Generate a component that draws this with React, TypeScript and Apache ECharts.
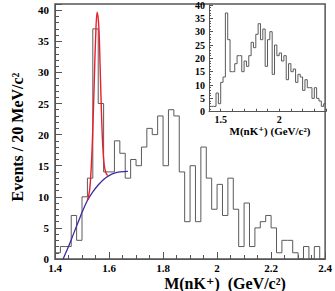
import React, { useEffect, useRef } from 'react';
import * as echarts from 'echarts';

// Histogram binning (GeV/c^2)
const binLow = 1.4;
const binWidth = 0.02;

// Main histogram: events per 20 MeV/c^2, bins starting at 1.40
const mainCounts = [
  1, 2, 2, 7, 3, 10, 13, 37, 25, 14,
  14, 19, 17, 13, 16, 15, 18, 21, 20, 23,
  15, 24, 23, 14, 6, 15, 6, 18, 13, 8,
  12, 7, 13, 8, 2, 9, 2, 5, 6, 7,
  5, 1, 3, 3, 1, 0, 2, 0, 2, 0,
];

// Inset histogram
const insetCounts = [
  2, 2, 2, 7, 3, 11, 13, 37, 27, 15,
  15, 18, 21, 21, 15, 19, 17, 21, 26, 24,
  29, 33, 27, 31, 17, 27, 30, 14, 25, 21,
  22, 19, 21, 12, 18, 15, 16, 11, 14, 13,
  8, 12, 9, 9, 5, 9, 5, 4, 2, 3,
];

// Fit curves [mass, events]
const fitTotal = [
  [1.52, 9.5], [1.528, 11.0], [1.535, 15.5], [1.54, 21.0], [1.545, 28.0],
  [1.55, 35.0], [1.556, 39.7], [1.562, 37.5], [1.567, 31.0], [1.572, 23.5],
  [1.577, 18.0], [1.582, 15.2], [1.588, 13.9], [1.595, 13.4],
];
const fitBackground = [
  [1.43, 0], [1.44, 1.0], [1.45, 2.0], [1.47, 4.2], [1.49, 6.4], [1.5, 7.5],
  [1.52, 9.4], [1.54, 10.8], [1.56, 11.9], [1.58, 12.8], [1.6, 13.4],
  [1.62, 13.8], [1.64, 14.0], [1.67, 14.1],
];

const FONT = '"Liberation Serif", "DejaVu Serif", serif';

function stepData(counts: number[]) {
  const pts = counts.map((c, i) => [+(binLow + i * binWidth).toFixed(2), c]);
  pts.push([+(binLow + counts.length * binWidth).toFixed(2), counts[counts.length - 1]]);
  return pts;
}

export default function App() {
  const ref = useRef<HTMLDivElement>(null);
  useEffect(() => {
    if (!ref.current) return;
    const chart = echarts.init(ref.current, undefined, { renderer: 'svg' });
    const axisColor = '#555';
    const labelStyle = { color: '#000', fontFamily: FONT, fontWeight: 'bold' as const };
    chart.setOption({
      animation: false,
      backgroundColor: '#fff',
      grid: [
        { left: 55, top: 4, width: 271, height: 255, show: true, borderColor: axisColor, borderWidth: 1.5, containLabel: false },
        { left: 209, top: 5, width: 117, height: 106.7, show: false, containLabel: false },
      ],
      xAxis: [
        {
          type: 'value', gridIndex: 0, min: 1.4, max: 2.4, interval: 0.2,
          axisLine: { show: true, lineStyle: { color: axisColor, width: 1 } },
          axisTick: { show: true, inside: true, length: 7, lineStyle: { color: axisColor } },
          minorTick: { show: true, splitNumber: 4, length: 4, lineStyle: { color: axisColor } },
          splitLine: { show: false },
          axisLabel: { ...labelStyle, fontSize: 11, margin: 3 },
        },
        {
          type: 'value', gridIndex: 1, min: 1.4, max: 2.4, interval: 0.1,
          axisLine: { show: true, onZero: false, lineStyle: { color: axisColor, width: 1 } },
          axisTick: { show: true, inside: true, length: 3, lineStyle: { color: axisColor } },
          splitLine: { show: false },
          axisLabel: {
            ...labelStyle, fontSize: 10, margin: 3, showMinLabel: true, showMaxLabel: true,
            formatter: (v: number) => (Math.abs(v - 1.5) < 1e-6 ? '1.5' : Math.abs(v - 2) < 1e-6 ? '2' : ''),
          },
        },
      ],
      yAxis: [
        {
          type: 'value', gridIndex: 0, min: 0, max: 41, interval: 5,
          axisLine: { show: true, lineStyle: { color: axisColor, width: 1 } },
          axisTick: { show: true, inside: true, length: 7, lineStyle: { color: axisColor } },
          minorTick: { show: true, splitNumber: 5, length: 4, lineStyle: { color: axisColor } },
          splitLine: { show: false },
          axisLabel: { ...labelStyle, fontSize: 11, margin: 6, formatter: (v: number) => (v % 5 === 0 ? String(v) : '') },
        },
        {
          type: 'value', gridIndex: 1, min: 0, max: 40, interval: 5,
          axisLine: { show: true, onZero: false, lineStyle: { color: axisColor, width: 1 } },
          axisTick: { show: true, inside: true, length: 4, lineStyle: { color: axisColor } },
          minorTick: { show: true, splitNumber: 5, length: 2, lineStyle: { color: axisColor } },
          splitLine: { show: false },
          axisLabel: { ...labelStyle, fontSize: 10, margin: 4 },
        },
      ],
      series: [
        {
          type: 'line', xAxisIndex: 0, yAxisIndex: 0, step: 'end', data: stepData(mainCounts),
          symbol: 'none', lineStyle: { color: '#5a5a5a', width: 1 }, z: 2,
        },
        {
          type: 'line', xAxisIndex: 0, yAxisIndex: 0, data: fitBackground, smooth: 0.4,
          symbol: 'none', lineStyle: { color: '#3a2e9c', width: 1.3 }, z: 3,
        },
        {
          type: 'line', xAxisIndex: 0, yAxisIndex: 0, data: fitTotal, smooth: 0.4,
          symbol: 'none', lineStyle: { color: '#e8202c', width: 1.4 }, z: 4,
        },
        {
          type: 'line', xAxisIndex: 1, yAxisIndex: 1, step: 'end', data: stepData(insetCounts),
          symbol: 'none', lineStyle: { color: '#5a5a5a', width: 1 }, z: 2,
        },
      ],
      graphic: [
        {
          type: 'text', x: 17, y: 137, rotation: Math.PI / 2, originX: 0, originY: 0,
          style: {
            text: 'Events / 20 MeV/c²', fontFamily: FONT, fontWeight: 'bold', fontSize: 16,
            fill: '#000', align: 'center', verticalAlign: 'middle',
          },
        },
        {
          type: 'text', x: 225, y: 283,
          style: {
            text: 'M(nK⁺)  (GeV/c²)', fontFamily: FONT, fontWeight: 'bold', fontSize: 16,
            fill: '#000', align: 'center', verticalAlign: 'middle',
          },
        },
        {
          type: 'text', x: 270, y: 131,
          style: {
            text: 'M(nK⁺) (GeV/c²)', fontFamily: FONT, fontWeight: 'bold', fontSize: 11,
            fill: '#000', align: 'center', verticalAlign: 'middle',
          },
        },
      ],
    });
    return () => chart.dispose();
  }, []);
  return <div ref={ref} style={{ position: 'absolute', left: 0, top: 0, width: 335, height: 291 }} />;
}
